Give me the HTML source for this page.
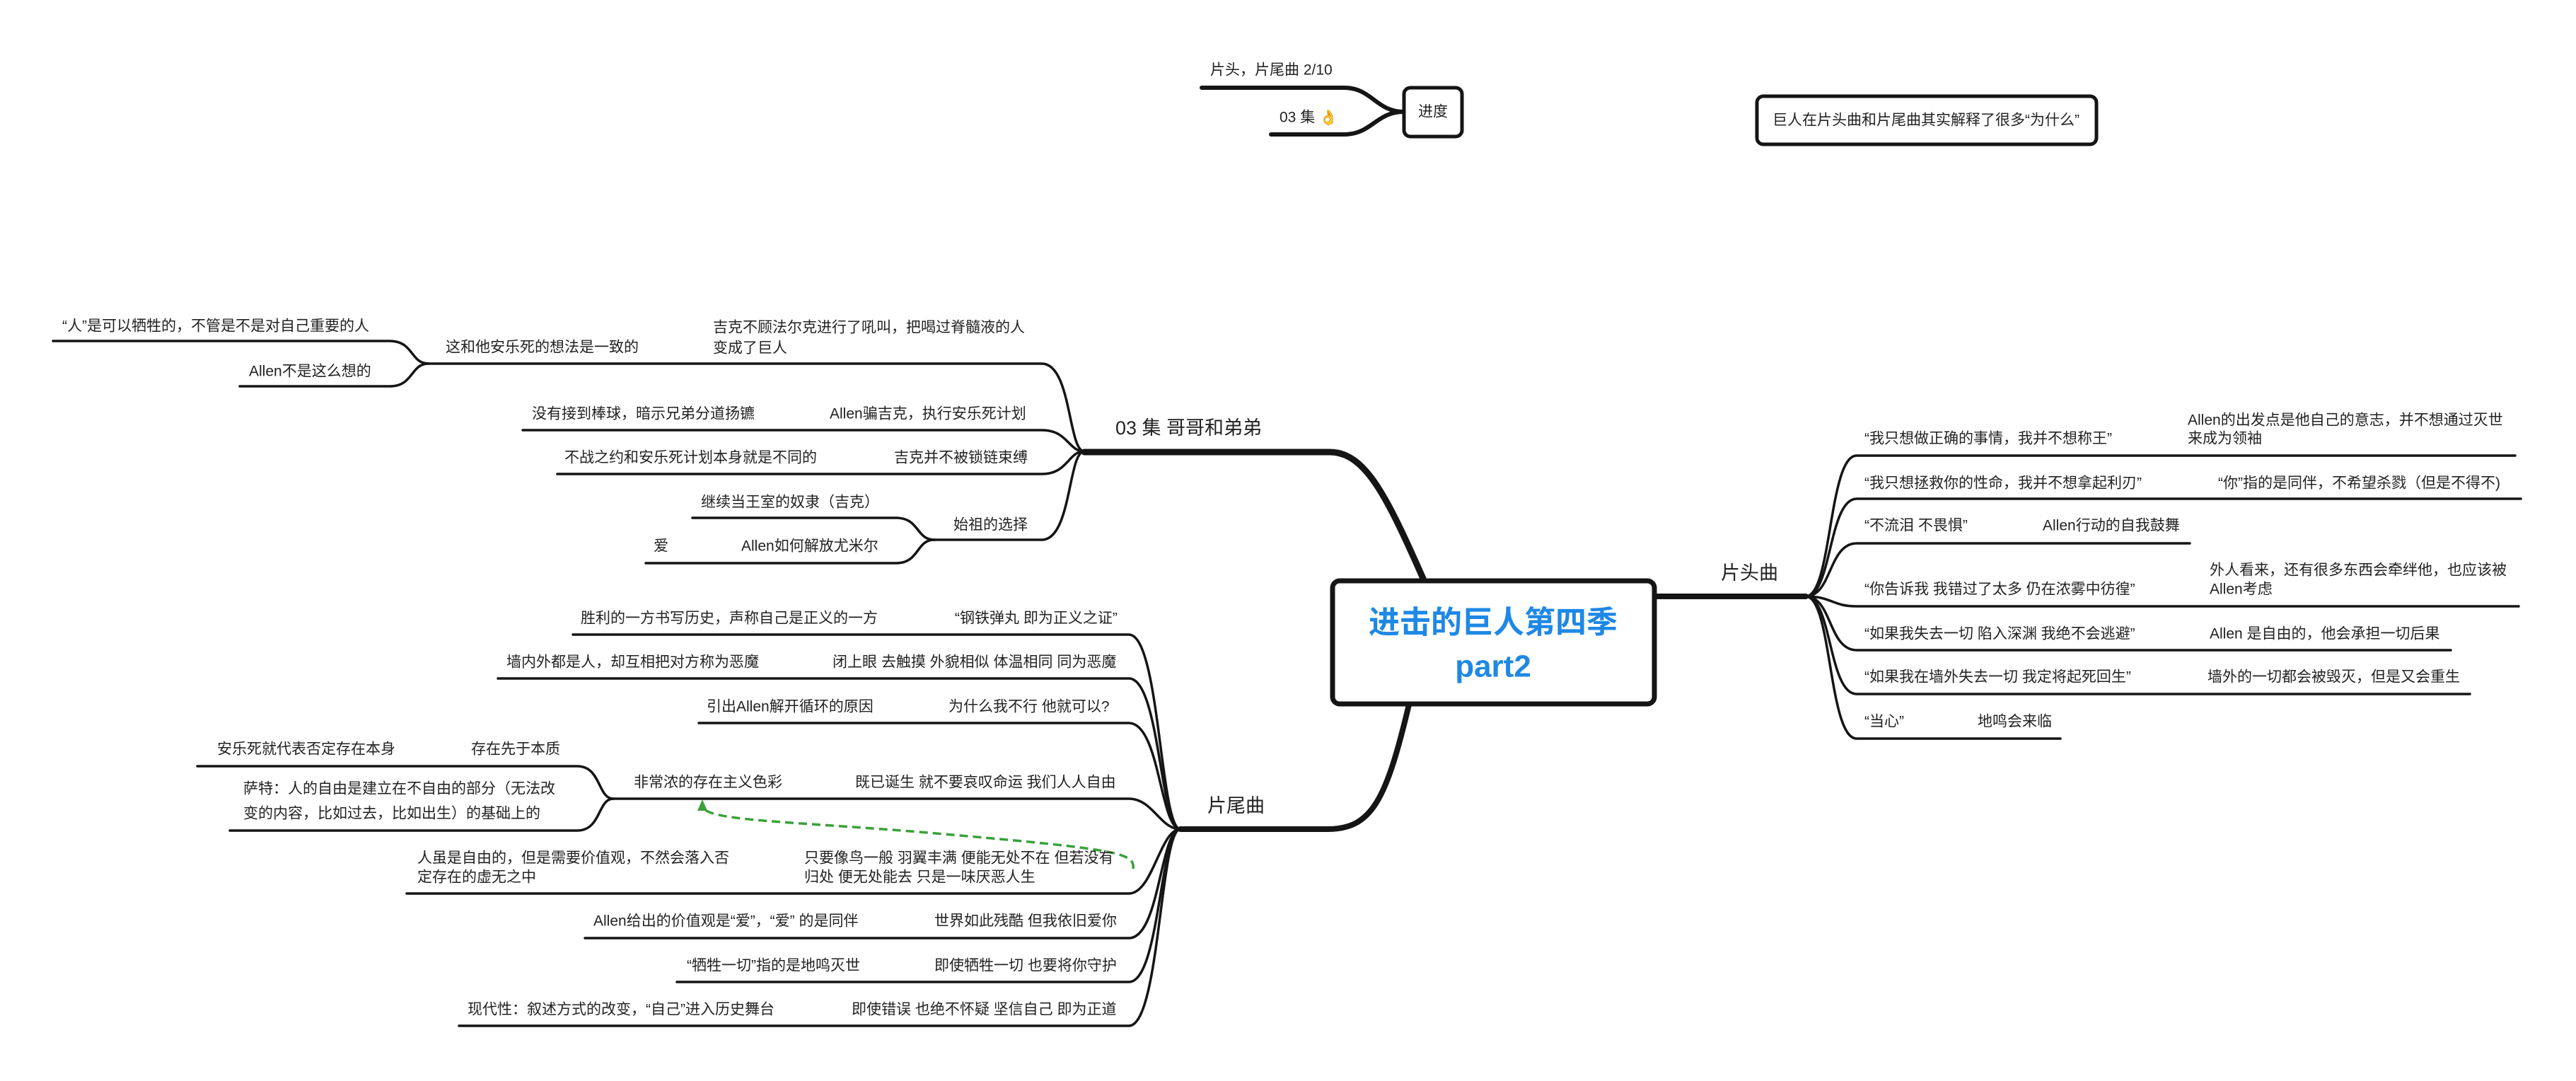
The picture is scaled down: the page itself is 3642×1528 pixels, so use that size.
<!DOCTYPE html>
<html><head><meta charset="utf-8"><style>
html,body{margin:0;padding:0;background:#fff}
svg{display:block}
text{font-family:"Liberation Sans","Noto Sans CJK SC",sans-serif;fill:#222;dominant-baseline:central}
.t{font-size:21px}
.b{font-size:27px}
</style></head><body>
<svg width="3642" height="1528" viewBox="0 0 3642 1528" xmlns="http://www.w3.org/2000/svg">
<g fill="none" stroke="#151515" stroke-linecap="round">
<!-- 进度 -->
<path d="M1699 124 L1900 124 C1940 124,1945 158,1985 158" stroke-width="6"/>
<path d="M1797 190 L1900 190 C1940 190,1945 158,1985 158" stroke-width="6"/>
<!-- main branches -->
<path d="M2013 820 C1960 700,1930 639,1880 639 L1533 639" stroke-width="9"/>
<path d="M1992 996 C1960 1130,1940 1172,1877 1172 L1669 1172" stroke-width="8"/>
<path d="M2339 843 L2553 843" stroke-width="8"/>
<!-- 03 集 children -->
<g stroke-width="3.5">
<path d="M606 514 L1473 514 C1515 514,1510 638,1533 638"/>
<path d="M739 608 L1473 608 C1510 608,1510 638,1533 638"/>
<path d="M788 670 L1473 670 C1510 670,1510 638,1533 638"/>
<path d="M1321 763 L1473 763 C1515 763,1510 638,1533 638"/>
<path d="M75 482 L551 482 C585 482,580 514,606 514"/>
<path d="M339 546 L551 546 C585 546,580 514,606 514"/>
<path d="M979 732 L1267 732 C1300 732,1295 763,1321 763"/>
<path d="M913 796 L1267 796 C1300 796,1295 763,1321 763"/>
<!-- 片尾曲 children -->
<path d="M810 897 L1596 897 C1640 897,1640 1172,1669 1172"/>
<path d="M704 959 L1596 959 C1640 959,1640 1172,1669 1172"/>
<path d="M988 1022 L1596 1022 C1640 1022,1640 1172,1669 1172"/>
<path d="M867 1129 L1596 1129 C1630 1129,1640 1172,1669 1172"/>
<path d="M575 1263 L1596 1263 C1630 1263,1640 1172,1669 1172"/>
<path d="M827 1326 L1596 1326 C1640 1326,1640 1172,1669 1172"/>
<path d="M957 1388 L1596 1388 C1640 1388,1640 1172,1669 1172"/>
<path d="M649 1450 L1596 1450 C1640 1450,1640 1172,1669 1172"/>
<path d="M279 1083 L816 1083 C850 1083,845 1129,867 1129"/>
<path d="M325 1174 L816 1174 C850 1174,845 1129,867 1129"/>
<!-- 片头曲 children -->
<path d="M2553 843 C2590 843,2585 644,2625 644 L3556 644"/>
<path d="M2553 843 C2590 843,2585 705,2625 705 L3564 705"/>
<path d="M2553 843 C2590 843,2585 768,2625 768 L3096 768"/>
<path d="M2553 843 C2590 843,2590 857,2625 857 L3561 857"/>
<path d="M2553 843 C2590 843,2585 919,2625 919 L3465 919"/>
<path d="M2553 843 C2590 843,2585 981,2625 981 L3492 981"/>
<path d="M2553 843 C2590 843,2585 1044,2625 1044 L2913 1044"/>
</g>
<!-- green dashed arrow -->
<path d="M1602 1228 C1605 1205,1580 1200,1300 1176 C1100 1160,1000 1160,993 1140" stroke="#3aa03a" stroke-width="3.5" stroke-dasharray="12 7" stroke-linecap="butt"/>
</g>
<path d="M993 1130 L986 1146 L1000 1146 Z" fill="#3aa03a"/>
<!-- boxes -->
<rect x="1884" y="821" width="455" height="174" rx="10" fill="#fff" stroke="#151515" stroke-width="7"/>
<rect x="1985" y="124" width="82" height="69" rx="9" fill="#fff" stroke="#151515" stroke-width="5"/>
<rect x="2484" y="136" width="480" height="68" rx="9" fill="#fff" stroke="#151515" stroke-width="5"/>
<text x="2111" y="880" text-anchor="middle" style="font-size:44px;font-weight:bold;fill:#1e88e5">进击的巨人第四季</text>
<text x="2111" y="942" text-anchor="middle" style="font-size:44px;font-weight:bold;fill:#1e88e5">part2</text>
<text x="2026" y="158" text-anchor="middle" class="t">进度</text>
<text x="2723" y="170" text-anchor="middle" class="t">巨人在片头曲和片尾曲其实解释了很多“为什么”</text>
<text x="1711" y="99" class="t">片头，片尾曲 2/10</text>
<text x="1809" y="166" class="t">03 集 <tspan style="fill:#f5c518">👌</tspan></text>
<text x="1577" y="605" class="b">03 集 哥哥和弟弟</text>
<text x="1707" y="1139" class="b">片尾曲</text>
<text x="2433" y="810" class="b">片头曲</text>
<g class="t">
<text x="1008" y="463" class="t">吉克不顾法尔克进行了吼叫，把喝过脊髓液的人</text>
<text x="1008" y="492" class="t">变成了巨人</text>
<text x="630" y="491" class="t">这和他安乐死的想法是一致的</text>
<text x="88" y="461" class="t">“人”是可以牺牲的，不管是不是对自己重要的人</text>
<text x="352" y="525" class="t">Allen不是这么想的</text>
<text x="752" y="585" class="t">没有接到棒球，暗示兄弟分道扬镳</text>
<text x="1173" y="585" class="t">Allen骗吉克，执行安乐死计划</text>
<text x="798" y="647" class="t">不战之约和安乐死计划本身就是不同的</text>
<text x="1264" y="647" class="t">吉克并不被锁链束缚</text>
<text x="1348" y="742" class="t">始祖的选择</text>
<text x="991" y="710" class="t">继续当王室的奴隶（吉克）</text>
<text x="924" y="772" class="t">爱</text>
<text x="1048" y="772" class="t">Allen如何解放尤米尔</text>
<text x="821" y="874" class="t">胜利的一方书写历史，声称自己是正义的一方</text>
<text x="1350" y="874" class="t">“钢铁弹丸 即为正义之证”</text>
<text x="716" y="936" class="t">墙内外都是人，却互相把对方称为恶魔</text>
<text x="1177" y="936" class="t">闭上眼 去触摸 外貌相似 体温相同 同为恶魔</text>
<text x="999" y="999" class="t">引出Allen解开循环的原因</text>
<text x="1341" y="999" class="t">为什么我不行 他就可以?</text>
<text x="896" y="1106" class="t">非常浓的存在主义色彩</text>
<text x="1209" y="1106" class="t">既已诞生 就不要哀叹命运 我们人人自由</text>
<text x="307" y="1059" class="t">安乐死就代表否定存在本身</text>
<text x="666" y="1059" class="t">存在先于本质</text>
<text x="344" y="1115" class="t">萨特：人的自由是建立在不自由的部分（无法改</text>
<text x="344" y="1150" class="t">变的内容，比如过去，比如出生）的基础上的</text>
<text x="590" y="1213" class="t">人虽是自由的，但是需要价值观，不然会落入否</text>
<text x="590" y="1240" class="t">定存在的虚无之中</text>
<text x="1137" y="1213" class="t">只要像鸟一般 羽翼丰满 便能无处不在 但若没有</text>
<text x="1137" y="1240" class="t">归处 便无处能去 只是一味厌恶人生</text>
<text x="839" y="1302" class="t">Allen给出的价值观是“爱”，“爱” 的是同伴</text>
<text x="1321" y="1302" class="t">世界如此残酷 但我依旧爱你</text>
<text x="971" y="1365" class="t">“牺牲一切”指的是地鸣灭世</text>
<text x="1321" y="1365" class="t">即使牺牲一切 也要将你守护</text>
<text x="661" y="1427" class="t">现代性：叙述方式的改变，“自己”进入历史舞台</text>
<text x="1204" y="1427" class="t">即使错误 也绝不怀疑 坚信自己 即为正道</text>
<text x="2636" y="620" class="t">“我只想做正确的事情，我并不想称王”</text>
<text x="3093" y="594" class="t">Allen的出发点是他自己的意志，并不想通过灭世</text>
<text x="3093" y="620" class="t">来成为领袖</text>
<text x="2636" y="683" class="t">“我只想拯救你的性命，我并不想拿起利刃”</text>
<text x="3136" y="683" class="t">“你”指的是同伴，不希望杀戮（但是不得不)</text>
<text x="2636" y="743" class="t">“不流泪 不畏惧”</text>
<text x="2888" y="743" class="t">Allen行动的自我鼓舞</text>
<text x="2636" y="833" class="t">“你告诉我 我错过了太多 仍在浓雾中彷徨”</text>
<text x="3124" y="806" class="t">外人看来，还有很多东西会牵绊他，也应该被</text>
<text x="3124" y="833" class="t">Allen考虑</text>
<text x="2636" y="896" class="t">“如果我失去一切 陷入深渊 我绝不会逃避”</text>
<text x="3124" y="896" class="t">Allen 是自由的，他会承担一切后果</text>
<text x="2636" y="957" class="t">“如果我在墙外失去一切 我定将起死回生”</text>
<text x="3121" y="957" class="t">墙外的一切都会被毁灭，但是又会重生</text>
<text x="2636" y="1020" class="t">“当心”</text>
<text x="2796" y="1020" class="t">地鸣会来临</text>
</g>
</svg>
</body></html>
